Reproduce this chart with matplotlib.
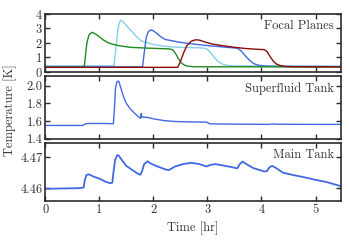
import matplotlib
matplotlib.use("Agg")
import matplotlib.pyplot as plt

# ---------------- data (hours, Kelvin) ----------------
green_t = [0, 0.72, 0.74, 0.77, 0.81, 0.87, 0.95, 1.07, 1.17, 1.26, 1.35, 1.57, 1.8, 2.0, 2.3, 2.36, 2.41, 2.46, 2.51, 2.56, 2.62, 2.75, 5.5]
green_v = [0.32, 0.32, 1.0, 2.0, 2.55, 2.72, 2.55, 2.2, 1.98, 1.88, 1.8, 1.68, 1.64, 1.61, 1.57, 1.5, 1.25, 0.92, 0.64, 0.48, 0.39, 0.34, 0.33]

lblue_t = [0, 1.27, 1.3, 1.34, 1.37, 1.40, 1.45, 1.52, 1.6, 1.68, 1.76, 1.84, 1.9, 2.0, 2.15, 2.3, 2.5, 2.7, 2.9, 2.98, 3.05, 3.12, 3.2, 3.3, 3.45, 5.5]
lblue_v = [0.41, 0.41, 1.4, 2.8, 3.4, 3.55, 3.4, 3.1, 2.78, 2.45, 2.17, 2.02, 1.98, 1.88, 1.78, 1.72, 1.68, 1.66, 1.64, 1.6, 1.35, 1.0, 0.7, 0.48, 0.4, 0.38]

blue_t = [0, 1.8, 1.83, 1.87, 1.91, 1.95, 2.0, 2.07, 2.14, 2.22, 2.32, 2.45, 2.7, 3.0, 3.3, 3.55, 3.62, 3.7, 3.78, 3.86, 3.95, 4.1, 4.3, 5.5]
blue_v = [0.33, 0.33, 1.3, 2.4, 2.78, 2.88, 2.82, 2.62, 2.4, 2.22, 2.15, 2.05, 1.92, 1.8, 1.7, 1.62, 1.45, 1.1, 0.78, 0.55, 0.44, 0.38, 0.36, 0.35]

red_t = [0, 2.45, 2.5, 2.56, 2.62, 2.7, 2.78, 2.85, 2.95, 3.1, 3.3, 3.5, 3.7, 3.9, 4.05, 4.1, 4.16, 4.22, 4.28, 4.35, 4.45, 4.6, 5.5]
red_v = [0.3, 0.3, 0.7, 1.3, 1.8, 2.1, 2.2, 2.18, 2.05, 1.9, 1.78, 1.68, 1.6, 1.55, 1.52, 1.4, 1.05, 0.72, 0.52, 0.42, 0.36, 0.34, 0.33]

sf_t = [0, 0.7, 0.73, 0.78, 0.9, 1.1, 1.26, 1.28, 1.3, 1.33, 1.36, 1.4, 1.45, 1.5, 1.57, 1.65, 1.72, 1.76, 1.775, 1.785, 1.8, 1.9, 2.0, 2.2, 2.4, 2.7, 2.98, 3.05, 3.5, 4.0, 4.15, 4.2, 4.3, 5.0, 5.5]
sf_v = [1.55, 1.55, 1.565, 1.572, 1.573, 1.572, 1.57, 1.75, 1.98, 2.05, 2.05, 1.97, 1.87, 1.8, 1.74, 1.69, 1.65, 1.63, 1.685, 1.645, 1.645, 1.64, 1.625, 1.605, 1.595, 1.59, 1.588, 1.568, 1.565, 1.563, 1.562, 1.567, 1.564, 1.562, 1.562]

mt_t = [0, 0.3, 0.6, 0.71, 0.73, 0.76, 0.8, 0.9, 1.0, 1.1, 1.2, 1.24, 1.26, 1.29, 1.33, 1.36, 1.42, 1.5, 1.6, 1.7, 1.76, 1.79, 1.83, 1.89, 1.95, 2.05, 2.2, 2.28, 2.4, 2.55, 2.7, 2.85, 2.98, 3.05, 3.15, 3.3, 3.45, 3.55, 3.6, 3.65, 3.72, 3.85, 4.05, 4.1, 4.15, 4.2, 4.27, 4.4, 4.6, 4.8, 5.0, 5.2, 5.4, 5.5]
mt_v = [4.4598, 4.4599, 4.4600, 4.4602, 4.4625, 4.4642, 4.4645, 4.4637, 4.4631, 4.4622, 4.4616, 4.4618, 4.4650, 4.4690, 4.4707, 4.4705, 4.4690, 4.4672, 4.4660, 4.4648, 4.4643, 4.4655, 4.4678, 4.4687, 4.4680, 4.4672, 4.4662, 4.4658, 4.4670, 4.4678, 4.4682, 4.4678, 4.4670, 4.4675, 4.4678, 4.4673, 4.4668, 4.4664, 4.4678, 4.4686, 4.4678, 4.4665, 4.4654, 4.4655, 4.4668, 4.4672, 4.4665, 4.4650, 4.4642, 4.4635, 4.4627, 4.4620, 4.4610, 4.4605]

x_ticks = [0, 1, 2, 3, 4, 5]
fp_ticks = [0, 1, 2, 3, 4]
sf_ticks = [1.4, 1.6, 1.8, 2.0]
mt_ticks = [4.46, 4.47]

# ---------------- style ----------------
plt.rcParams['font.family'] = 'serif'
plt.rcParams['font.serif'] = ['cmr10', 'DejaVu Serif']
plt.rcParams['axes.formatter.use_mathtext'] = True
plt.rcParams['axes.unicode_minus'] = False
txt = '#333333'
spine = '#2b2b2b'
fs = 9

fig = plt.figure(figsize=(3.49, 2.43), dpi=100)
L, W = 0.1298, 0.847
ax1 = fig.add_axes([L, 0.705, W, 0.2387])
ax2 = fig.add_axes([L, 0.4292, W, 0.258])
ax3 = fig.add_axes([L, 0.1708, W, 0.242])

lw = 1.0
ax1.plot(lblue_t, lblue_v, color='#87CEEB', lw=lw)
ax1.plot(blue_t, blue_v, color='#4169E1', lw=lw)
ax1.plot(green_t, green_v, color='#1f8a1f', lw=lw)
ax1.plot(red_t, red_v, color='#8B0A0A', lw=lw)
ax2.plot(sf_t, sf_v, color='#4169E1', lw=lw)
ax3.plot(mt_t, mt_v, color='#4169E1', lw=1.3)

ax1.set_ylim(0, 4)
ax1.set_yticks(fp_ticks)
ax2.set_ylim(1.4, 2.11)
ax2.set_yticks(sf_ticks)
ax2.set_yticklabels(['%.1f' % v for v in sf_ticks])
ax3.set_ylim(4.4557, 4.4747)
ax3.set_yticks(mt_ticks)
ax3.set_yticklabels(['%.2f' % v for v in mt_ticks])

for ax in (ax1, ax2, ax3):
    ax.set_xlim(0, 5.47)
    ax.set_xticks(x_ticks)
    ax.tick_params(direction='in', top=True, right=True, length=3.5, width=1.0,
                   colors=spine, labelcolor=txt, labelsize=fs, pad=2)
    for s in ax.spines.values():
        s.set_linewidth(1.2)
        s.set_color(spine)
ax1.tick_params(labelbottom=False)
ax2.tick_params(labelbottom=False)
ax3.set_xticklabels([str(v) for v in x_ticks])

ax1.text(0.975, 0.79, 'Focal Planes', transform=ax1.transAxes, ha='right', va='center', fontsize=fs, color=txt)
ax2.text(0.975, 0.80, 'Superfluid Tank', transform=ax2.transAxes, ha='right', va='center', fontsize=fs, color=txt)
ax3.text(0.975, 0.80, 'Main Tank', transform=ax3.transAxes, ha='right', va='center', fontsize=fs, color=txt)

fig.text(0.553, 0.062, 'Time [hr]', ha='center', va='center', fontsize=fs, color=txt)
fig.text(0.03, 0.545, 'Temperature [K]', ha='center', va='center', rotation=90, fontsize=fs, color=txt)

fig.savefig('out.png', dpi=100)
